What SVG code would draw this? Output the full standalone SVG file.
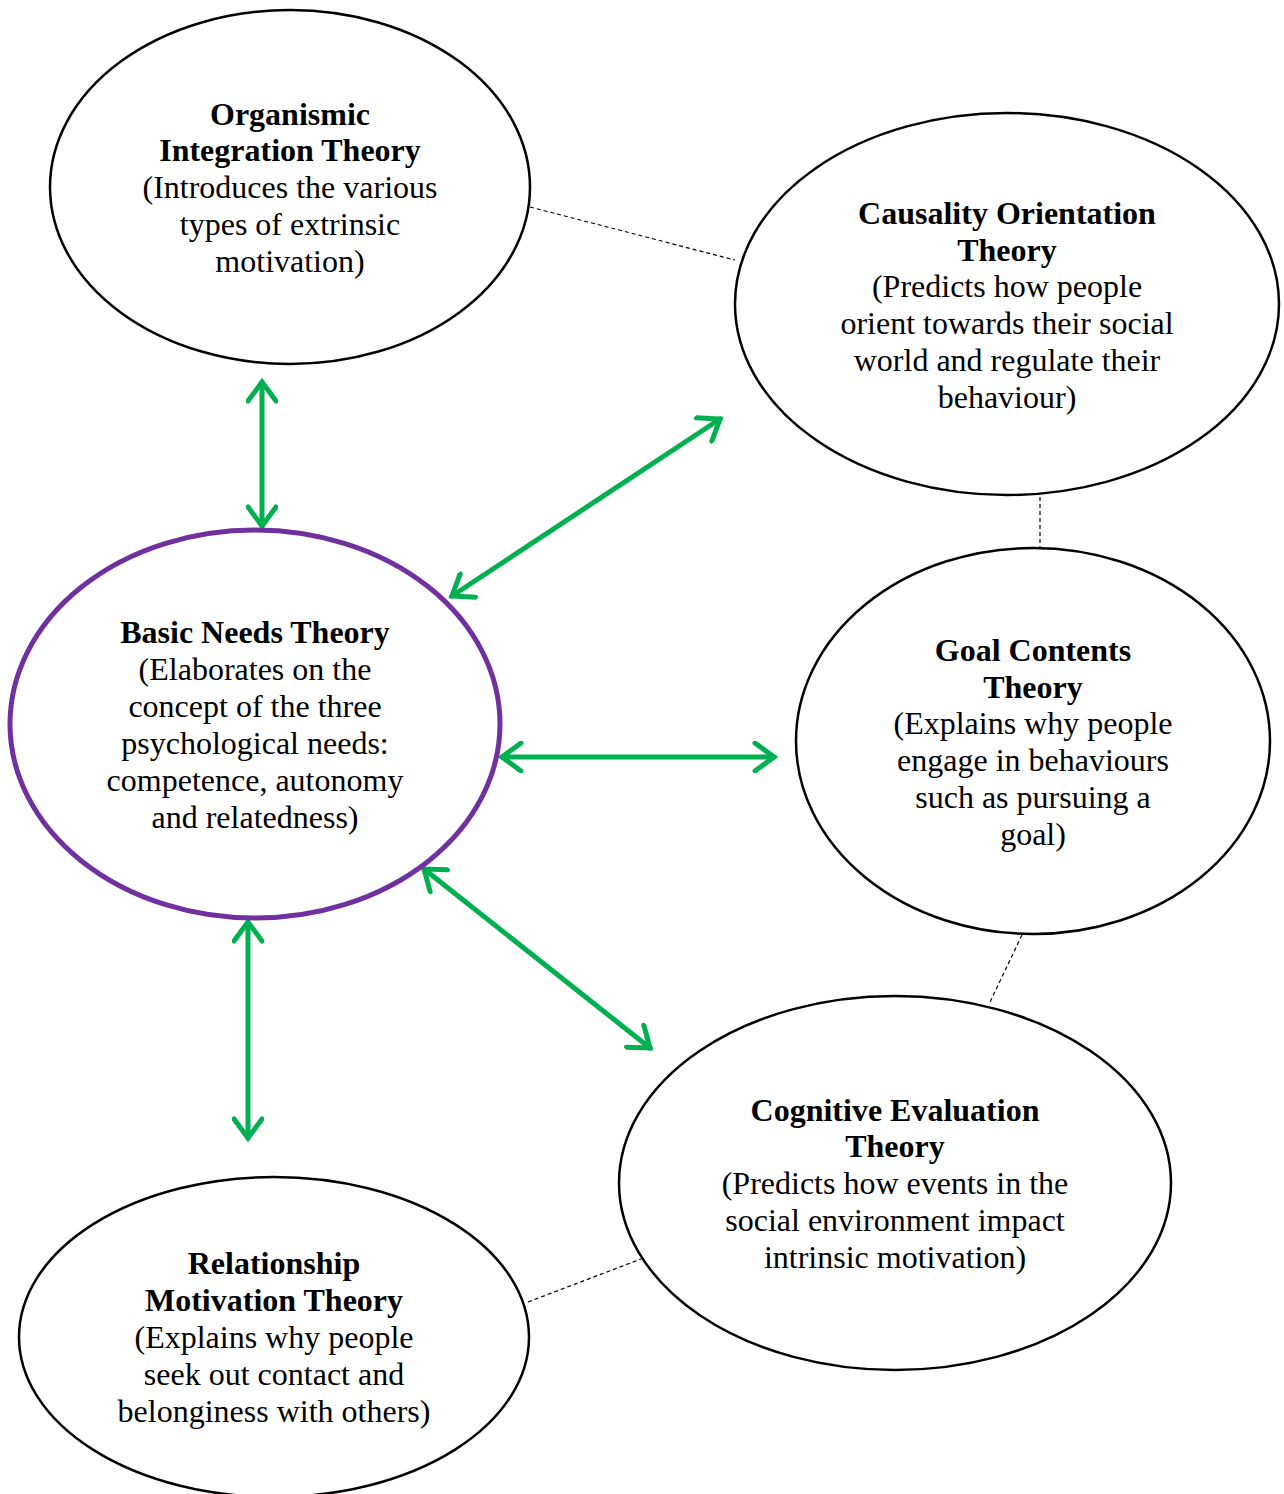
<svg xmlns="http://www.w3.org/2000/svg" width="1284" height="1494" viewBox="0 0 1284 1494">
  <style>
    .node { fill: #fff; stroke: #000; stroke-width: 2.5; }
    .hub { fill: #fff; stroke: #7030A0; stroke-width: 5; }
    text { font-family: "Liberation Serif", "Times New Roman", serif; font-size: 32px; fill: #000; text-anchor: middle; }
    .b { font-weight: bold; }
    .link { stroke: #00B050; stroke-width: 5; fill: none; stroke-linecap: round; marker-start: url(#head); marker-end: url(#head); }
    .dash { stroke: #000; stroke-width: 1.2; stroke-dasharray: 4 3; fill: none; }
  </style>
  <defs>
    <marker id="head" markerUnits="userSpaceOnUse" viewBox="-24 -16 28 32" refX="0" refY="0" markerWidth="28" markerHeight="32" orient="auto-start-reverse">
      <path d="M -19 -14 L 0 0 L -19 14" fill="none" stroke="#00B050" stroke-width="5" stroke-linecap="round" stroke-linejoin="miter"/>
    </marker>
  </defs>
  <rect width="1284" height="1494" fill="#fff"/>

  <g id="connectors">
    <line class="dash" x1="530" y1="207" x2="735" y2="260"/>
    <line class="dash" x1="1040" y1="497" x2="1040" y2="548"/>
    <line class="dash" x1="1022" y1="935" x2="990" y2="1002"/>
    <line class="dash" x1="528" y1="1302" x2="641" y2="1259"/>
    <line class="link" x1="262" y1="382" x2="262" y2="526"/>
    <line class="link" x1="452" y1="596" x2="720" y2="419"/>
    <line class="link" x1="502" y1="757" x2="774" y2="757"/>
    <line class="link" x1="424" y1="869" x2="650" y2="1048"/>
    <line class="link" x1="248" y1="922" x2="248" y2="1138"/>
  </g>

  <g id="organismic">
    <ellipse class="node" cx="290" cy="187" rx="240" ry="177"/>
    <text x="290" y="125" class="b">Organismic</text>
    <text x="290" y="161" class="b">Integration Theory</text>
    <text x="290" y="198">(Introduces the various</text>
    <text x="290" y="235">types of extrinsic</text>
    <text x="290" y="272">motivation)</text>
  </g>

  <g id="causality">
    <ellipse class="node" cx="1007" cy="304" rx="272" ry="191"/>
    <text x="1007" y="224" class="b">Causality Orientation</text>
    <text x="1007" y="261" class="b">Theory</text>
    <text x="1007" y="297">(Predicts how people</text>
    <text x="1007" y="334">orient towards their social</text>
    <text x="1007" y="371">world and regulate their</text>
    <text x="1007" y="408">behaviour)</text>
  </g>

  <g id="basic-needs">
    <ellipse class="hub" cx="255" cy="724" rx="245" ry="194"/>
    <text x="255" y="643" class="b">Basic Needs Theory</text>
    <text x="255" y="680">(Elaborates on the</text>
    <text x="255" y="717">concept of the three</text>
    <text x="255" y="754">psychological needs:</text>
    <text x="255" y="791">competence, autonomy</text>
    <text x="255" y="828">and relatedness)</text>
  </g>

  <g id="goal-contents">
    <ellipse class="node" cx="1033" cy="741" rx="237" ry="193"/>
    <text x="1033" y="661" class="b">Goal Contents</text>
    <text x="1033" y="698" class="b">Theory</text>
    <text x="1033" y="734">(Explains why people</text>
    <text x="1033" y="771">engage in behaviours</text>
    <text x="1033" y="808">such as pursuing a</text>
    <text x="1033" y="845">goal)</text>
  </g>

  <g id="cognitive-evaluation">
    <ellipse class="node" cx="895" cy="1183" rx="276" ry="187"/>
    <text x="895" y="1121" class="b">Cognitive Evaluation</text>
    <text x="895" y="1157" class="b">Theory</text>
    <text x="895" y="1194">(Predicts how events in the</text>
    <text x="895" y="1231">social environment impact</text>
    <text x="895" y="1268">intrinsic motivation)</text>
  </g>

  <g id="relationship-motivation">
    <ellipse class="node" cx="274" cy="1337" rx="255" ry="160"/>
    <text x="274" y="1274" class="b">Relationship</text>
    <text x="274" y="1311" class="b">Motivation Theory</text>
    <text x="274" y="1348">(Explains why people</text>
    <text x="274" y="1385">seek out contact and</text>
    <text x="274" y="1422">belonginess with others)</text>
  </g>
</svg>
